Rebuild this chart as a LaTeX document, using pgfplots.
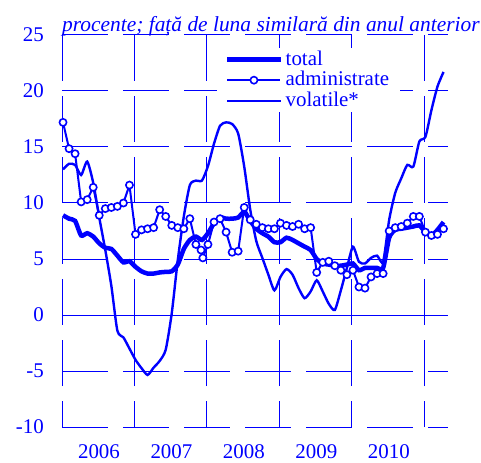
\documentclass[border=0pt]{standalone}
\usepackage{pgfplots}
\pgfplotsset{compat=1.18}
\usepackage{fontspec}
\setmainfont{Liberation Serif}
\definecolor{myblue}{RGB}{0,0,255}
\newcommand{\hgrid}[1]{\draw[myblue, line width=1bp] (axis cs:-0.17,#1) -- ++(46bp,0bp) ++(15bp,0bp) -- ++(46bp,0bp) ++(15bp,0bp) -- ++(46bp,0bp) ++(15bp,0bp) -- ++(46bp,0bp) ++(15bp,0bp) -- ++(46bp,0bp) ++(15bp,0bp) -- ++(46bp,0bp) ++(15bp,0bp) -- ++(20bp,0bp);}

\pgfplotstableread{
x y
0 17.2
1 14.85
2 14.4
3 10.1
4 10.3
5 11.4
6 8.9
7 9.5
8 9.6
9 9.7
10 10.0
11 11.6
12 7.2
13 7.6
14 7.7
15 7.8
16 9.4
17 8.8
18 8.0
19 7.8
20 7.7
21 8.6
22 6.3
22.85 5.8
23.15 5.1
24 6.3
25 8.3
26 8.6
27 7.4
28 5.6
29 5.7
30 9.6
31 8.5
32 8.1
33 7.8
34 7.7
35 7.7
36 8.2
37 8.0
38 7.9
39 8.1
40 7.7
41 7.8
42 3.8
43 4.7
44 4.8
45 4.4
46 4.0
47 3.6
48 4.0
49 2.5
50 2.4
51 3.4
52 3.7
53 3.7
54 7.5
55 7.8
56 7.9
57 8.2
58 8.8
59 8.8
60 7.4
61 7.1
62 7.2
63 7.7
}\admin

\pgfplotstableread{
x y
0 8.9
1 8.6
2 8.4
3 7.1
4 7.3
5 7.0
6 6.4
7 6.0
8 5.9
9 5.3
10 4.7
11 4.8
12 4.3
13 3.9
14 3.7
15 3.7
16 3.8
17 3.85
18 3.9
19 4.5
20 5.9
21 6.7
22 7.0
23 6.7
24 7.3
25 8.2
26 8.7
27 8.6
28 8.6
29 8.7
30 9.2
31 8.4
32 7.7
33 7.3
34 7.0
35 6.5
36 6.5
37 6.9
38 6.7
39 6.4
40 6.1
41 5.8
42 5.0
43 4.6
44 4.5
45 4.4
46 4.4
47 4.5
48 4.6
49 4.0
50 4.2
51 4.2
52 4.2
53 4.2
54 6.9
55 7.6
56 7.7
57 7.8
58 7.9
59 8.0
60 7.4
61 7.1
62 7.6
63 8.3
}\total

\pgfplotstableread{
x y
0 13.0
1 13.5
2 13.4
3 12.5
4 13.7
5 11.8
6 8.7
7 5.8
8 2.6
9 -1.4
10 -2.0
11 -3.0
12 -4.0
13 -4.75
14 -5.35
15 -4.7
16 -4.1
17 -3.1
18 0.15
19 4.9
20 8.8
21 11.6
22 12.0
23 12.0
24 13.3
25 15.3
26 16.9
27 17.2
28 17.05
29 16.2
30 13.25
31 9.4
32 6.6
33 5.1
34 3.6
35 2.2
36 3.4
37 4.1
38 3.6
39 2.4
40 1.5
41 2.1
42 3.1
43 2.1
44 1.0
45 0.45
46 2.2
47 4.2
48 6.1
49 4.75
50 4.6
51 5.1
52 5.3
53 4.75
54 8.5
55 10.9
56 12.2
57 13.4
58 13.25
59 15.5
60 15.9
61 18.3
62 20.4
63 21.7
}\volat

\begin{document}
\fontsize{21}{24}\selectfont
\begin{tikzpicture}
\useasboundingbox (-62bp,-36bp) rectangle (419bp,427bp);
\begin{axis}[
  at={(0,0)}, anchor=south west,
  scale only axis,
  width=386bp, height=392bp,
  xmin=-0.17, xmax=63.74,
  ymin=-10, ymax=25,
  clip=false,
  axis line style={draw=none},
  major tick length=0pt, minor tick length=0pt,
  ytick={-10,-5,0,5,10,15,20,25},
  yticklabels={-10,-5,0,5,10,15,20,25},
  xtick={5.95,17.95,29.95,41.95,53.95},
  xticklabels={2006,2007,2008,2009,2010},
  minor xtick={-0.17,11.83,23.83,35.83,47.83,59.83},
  xminorgrids=true,
  ymajorgrids=false,
  xmajorgrids=false,
  minor x grid style={myblue, line width=1bp, dash pattern=on 46bp off 15bp, dash phase=20bp},
  ticklabel style={text=myblue, font=\fontsize{21}{24}\selectfont},
  yticklabel style={inner sep=0pt, xshift=-18bp},
  xticklabel style={inner sep=0pt, yshift=-17bp},
  legend style={at={(rel axis cs:0,1)}, anchor=north west, xshift=155bp, yshift=-13bp,
    fill=white, draw=none, inner xsep=8bp, inner ysep=2bp,
    font=\fontsize{21}{21}\selectfont, text=myblue,
    nodes={inner xsep=3bp, inner ysep=0.5bp, text=myblue}, row sep=2bp},
  legend cell align=left,
  legend image code/.code={\draw[mark repeat=2,mark phase=2,#1] plot coordinates {(0bp,0bp) (26.5bp,0bp) (53bp,0bp)};},
]
\hgrid{-10}
\hgrid{-5}
\draw[myblue, line width=1bp] (axis cs:-0.17,0) -- (axis cs:63.74,0);
\hgrid{5}
\hgrid{10}
\hgrid{15}
\hgrid{20}
\hgrid{25}
\addplot[myblue, line width=4.5bp, smooth, tension=0.4] table[x=x,y=y] {\total};
\addlegendentry{total}
\addplot[myblue, line width=2bp, mark=*, mark size=3.6bp, mark options={fill=white, draw=myblue, line width=1.6bp, solid}] table[x=x,y=y] {\admin};
\addlegendentry{administrate}
\addplot[myblue, line width=2.4bp, smooth, tension=0.4] table[x=x,y=y] {\volat};
\addlegendentry{volatile*}
\end{axis}
\node[anchor=base west, inner sep=0pt, text=myblue, font=\itshape\fontsize{21.5}{24}\selectfont] at (0bp,395bp) {procente; față de luna similară din anul anterior};
\end{tikzpicture}
\end{document}
